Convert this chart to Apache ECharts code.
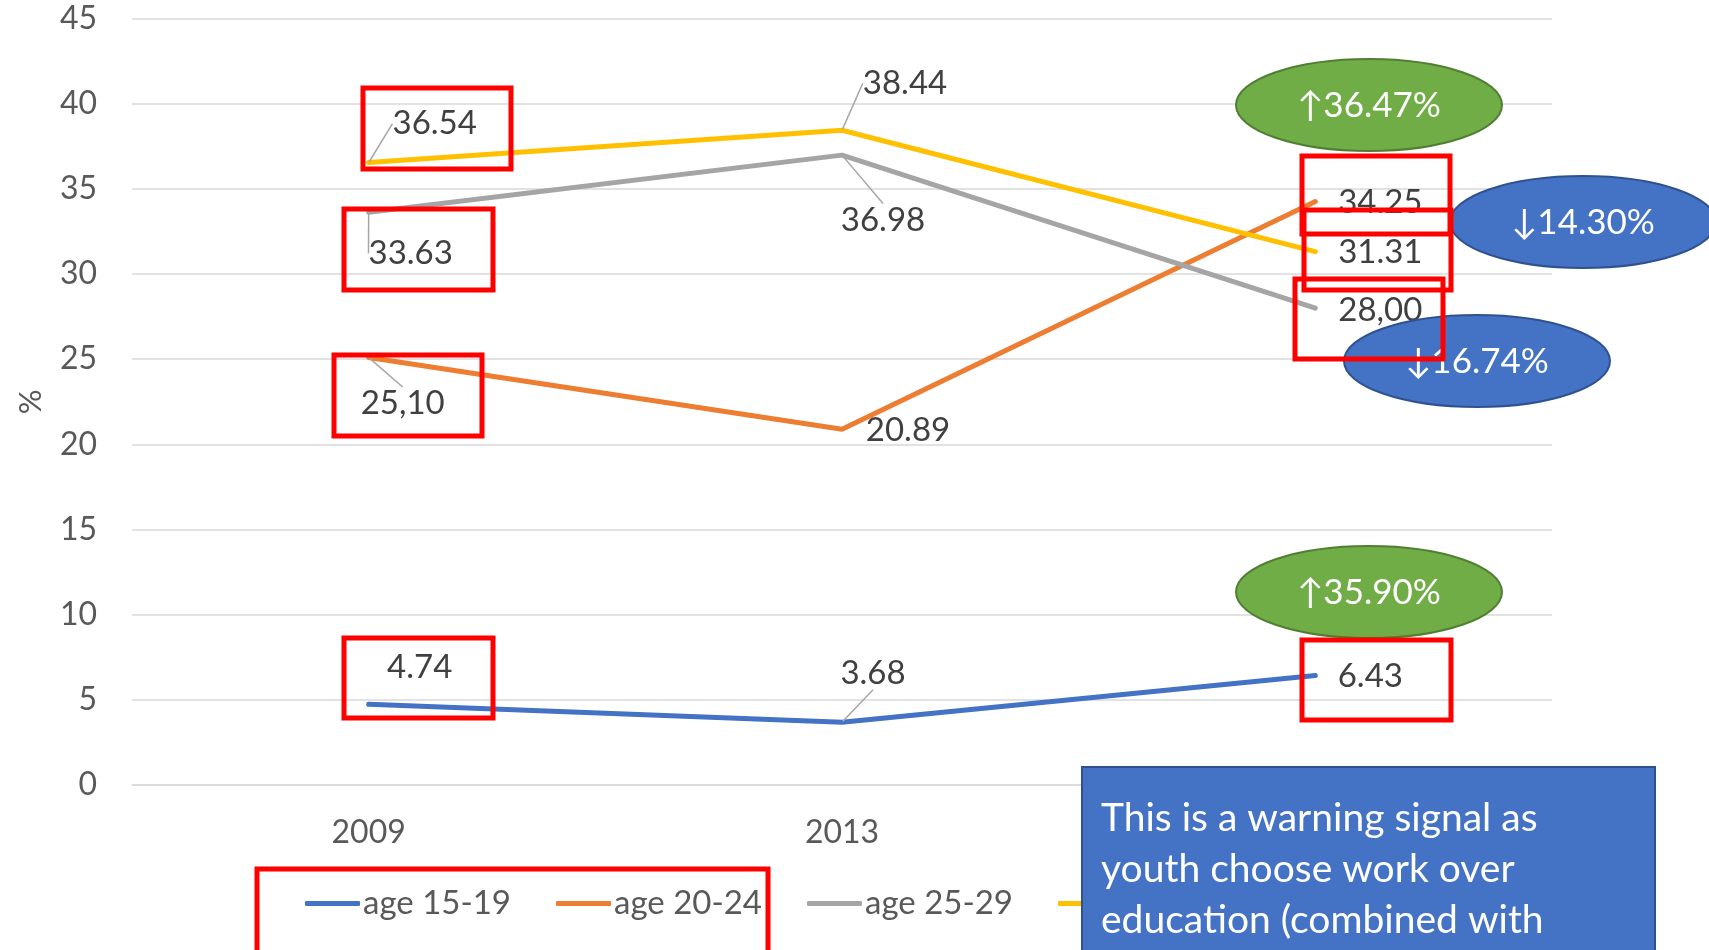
<!DOCTYPE html>
<html>
<head>
<meta charset="utf-8">
<script src="https://cdn.jsdelivr.net/npm/echarts@6/dist/echarts.min.js"></script>
<style>
  html, body { margin: 0; padding: 0; background: #fff; }
  #chart { width: 1709px; height: 950px; }
</style>
</head>
<body>
<div id="chart"></div>
<script>
// data
const years = ['2009', '2013', '2017']
const yTicks = [0, 5, 10, 15, 20, 25, 30, 35, 40, 45]
const seriesNames = ['age 15-19', 'age 20-24', 'age 25-29', 'age 30-34']
const age1519 = [4.74, 3.68, 6.43]
const age2024 = [25.10, 20.89, 34.25]
const age2529 = [33.63, 36.98, 28.00]
const age3034 = [36.54, 38.44, 31.31]
const age1519Text = ['4.74', '3.68', '6.43']
const age2024Text = ['25,10', '20.89', '34.25']
const age2529Text = ['33.63', '36.98', '28,00']
const age3034Text = ['36.54', '38.44', '31.31']
const changeNotes = ['\u219136.47%', '\u219314.30%', '\u219316.74%', '\u219135.90%']
const noteText = ['This is a warning signal as', 'youth choose work over', 'education (combined with']

const colors = ['#4472c4', '#ed7d31', '#a5a5a5', '#ffc000']
const FONT = 'Lato, "Noto Sans", sans-serif'

// label placement relative to each point: [dx, dy, leader]
const labelPlace = [
  [[51, -37, false], [31, -49, true], [55, 1, false]],
  [[34, 46, true], [66, 1, false], [65, 1, false]],
  [[42, 41, true], [41, 65, true], [65, 2, false]],
  [[66, -39, true], [63, -47, true], [65, 1, false]]
]

function buildSeries (idx, values, texts) {
  return {
    name: seriesNames[idx],
    type: 'line',
    data: values.map((v, i) => ({
      value: v,
      labelLine: { show: labelPlace[idx][i][2] }
    })),
    symbol: 'circle',
    symbolSize: 2,
    showSymbol: true,
    lineStyle: { width: 5, color: colors[idx], cap: 'round' },
    itemStyle: { color: colors[idx] },
    label: {
      show: true,
      fontFamily: FONT,
      fontSize: 33,
      color: '#404040',
      formatter: p => texts[p.dataIndex]
    },
    labelLine: {
      show: true,
      lineStyle: { color: '#a6a6a6', width: 1.5 }
    },
    labelLayout: function (p) {
      const pl = labelPlace[idx][p.dataIndex]
      return {
        x: p.rect.x + p.rect.width / 2 + pl[0],
        y: p.rect.y + p.rect.height / 2 + pl[1],
        align: 'center',
        verticalAlign: 'middle'
      }
    },
    emphasis: { disabled: true },
    z: 2 + idx
  }
}

// callout shapes drawn over the chart
const red = '#ff0000'
function redBox (x1, y1, x2, y2) {
  return {
    type: 'rect',
    shape: { x: x1, y: y1, width: x2 - x1, height: y2 - y1 },
    style: { fill: 'none', stroke: red, lineWidth: 5 },
    z: 30
  }
}
function bubble (cx, cy, fill, stroke, text) {
  return [{
    type: 'ellipse',
    shape: { cx: cx, cy: cy, rx: 133, ry: 46 },
    style: { fill: fill, stroke: stroke, lineWidth: 2 },
    z: 20
  }, {
    type: 'text',
    x: cx,
    y: cy + 1,
    z: 21,
    style: {
      text: text,
      fill: '#fff',
      fontSize: 35,
      fontFamily: FONT,
      align: 'center',
      verticalAlign: 'middle'
    }
  }]
}

const chart = echarts.init(document.getElementById('chart'))
chart.setOption({
  animation: false,
  backgroundColor: '#fff',
  grid: { left: 132, right: 157, top: 18.5, bottom: 165 },
  xAxis: {
    type: 'category',
    data: years,
    boundaryGap: true,
    axisLine: { show: true, lineStyle: { color: '#d9d9d9', width: 1.5 } },
    axisTick: { show: false },
    axisLabel: { fontFamily: FONT, fontSize: 32, color: '#595959', margin: 32 }
  },
  yAxis: {
    type: 'value',
    min: yTicks[0],
    max: yTicks[yTicks.length - 1],
    interval: 5,
    name: '%',
    nameLocation: 'middle',
    nameGap: 86,
    nameRotate: 90,
    nameTextStyle: { fontFamily: FONT, fontSize: 31, color: '#595959' },
    axisLine: { show: false },
    axisTick: { show: false },
    axisLabel: { fontFamily: FONT, fontSize: 32, color: '#595959', margin: 35 },
    splitLine: { lineStyle: { color: '#d9d9d9', width: 1.5 } }
  },
  legend: {
    data: seriesNames,
    left: 300,
    top: 882,
    icon: 'roundRect',
    itemWidth: 55,
    itemHeight: 5,
    itemGap: 45,
    textStyle: { fontFamily: FONT, fontSize: 33, color: '#595959', padding: [0, 0, 0, -2] }
  },
  series: [
    buildSeries(0, age1519, age1519Text),
    buildSeries(1, age2024, age2024Text),
    buildSeries(2, age2529, age2529Text),
    buildSeries(3, age3034, age3034Text)
  ],
  graphic: [].concat(
    bubble(1369, 105, '#70ad47', '#507e32', changeNotes[0]),
    bubble(1583, 222, '#4472c4', '#2f528f', changeNotes[1]),
    bubble(1477, 361, '#4472c4', '#2f528f', changeNotes[2]),
    bubble(1369, 592, '#70ad47', '#507e32', changeNotes[3]),
    [
      redBox(363, 88, 511, 169),
      redBox(344, 209, 493, 290),
      redBox(334, 355, 482, 436),
      redBox(344, 638, 493, 718),
      redBox(1302, 640, 1451, 720),
      redBox(1302, 156, 1450, 234),
      redBox(1304, 210, 1451, 290),
      redBox(1295, 279, 1443, 359),
      redBox(257, 869, 768, 960),
      {
        type: 'rect',
        shape: { x: 1082, y: 767, width: 573, height: 200 },
        style: { fill: '#4472c4', stroke: '#2f528f', lineWidth: 2 },
        z: 40
      },
      {
        type: 'text',
        x: 1101,
        y: 793,
        z: 41,
        style: {
          text: noteText.join('\n'),
          fill: '#fff',
          fontSize: 39,
          lineHeight: 51,
          fontFamily: FONT
        }
      }
    ]
  )
})
</script>
</body>
</html>
